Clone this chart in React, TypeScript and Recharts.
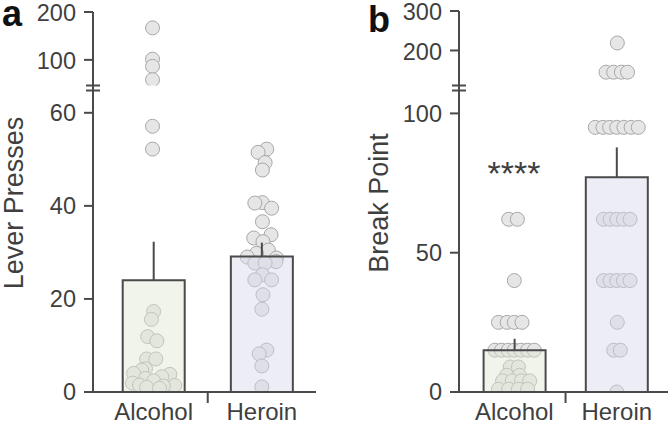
import React from 'react';
import { ComposedChart, Bar, Scatter, XAxis, YAxis, ErrorBar, Cell } from 'recharts';

const categories = ['Alcohol', 'Heroin'];
const categoryX = [1, 2];
const barFills = ['#e0e7d3', '#d6d6ec'];

// Panel a: Lever Presses
const leverMean = [24.0, 29.1];
const leverSem = [8.3, 3.0];
const leverTicksLow = [0, 20, 40, 60];
const leverTicksHigh = [100, 200];
const leverAlcoholHigh = [159, 101, 91, 75];
const leverAlcoholHighSpread = [-0.01, -0.01, -0.01, -0.01];
const leverAlcoholLow = [57.1, 52.2, 17.3, 15.6, 11.9, 11.0, 7.1, 7.1, 5.0, 4.7, 4.0, 3.8, 3.3, 2.9, 2.4, 1.9, 1.5, 1.4, 1.3, 1.0, 0.8];
const leverAlcoholLowSpread = [-0.01, -0.01, 0, -0.02, -0.055, 0.03, -0.065, 0.02, -0.075, -0.11, -0.185, 0.15, 0.075, -0.075, 0, -0.195, -0.13, 0.195, 0.09, -0.065, 0.055];
const leverHeroinLow = [52.2, 51.5, 49.3, 47.7, 40.7, 40.6, 39.5, 36.6, 33.8, 33.1, 32.3, 30.5, 29.8, 29.0, 28.8, 28.0, 27.7, 27.7, 25.2, 24.1, 24.1, 20.9, 17.8, 9.0, 8.2, 5.6, 1.1];
const leverHeroinLowSpread = [0.045, -0.035, 0.03, 0.005, 0.005, -0.065, 0.09, 0.005, 0.085, -0.075, 0.01, 0.06, -0.05, -0.135, 0.135, 0.13, -0.065, 0.03, 0.005, -0.065, 0.09, 0.01, 0, 0.045, -0.025, 0, 0];

// Panel b: Break Point
const breakMean = [15.0, 77.1];
const breakSem = [4.1, 10.7];
const breakTicksLow = [0, 50, 100];
const breakTicksHigh = [200, 300];
const breakAlcoholLow = [62, 62, 40, 25, 25, 25, 25, 15, 15, 15, 15, 15, 15, 15, 9, 9, 6, 6, 4, 4, 4, 4, 1, 1, 1, 1];
const breakAlcoholLowSpread = [-0.055, 0.03, 0, -0.155, -0.07, 0, 0.075, -0.19, -0.125, -0.06, 0, 0.065, 0.13, 0.195, -0.04, 0.04, -0.075, 0.05, -0.115, -0.02, 0.07, 0.15, -0.155, -0.055, 0.04, 0.13];
const breakHeroinHigh = [219, 145, 145, 145, 145];
const breakHeroinHighSpread = [0.005, -0.105, -0.03, 0.045, 0.105];
const breakHeroinLow = [95, 95, 95, 95, 95, 95, 95, 62, 62, 62, 62, 62, 40, 40, 40, 40, 40, 25, 15, 15, 0];
const breakHeroinLowSpread = [-0.21, -0.135, -0.07, 0, 0.07, 0.14, 0.21, -0.13, -0.065, 0, 0.065, 0.13, -0.13, -0.065, 0, 0.065, 0.13, 0.005, -0.03, 0.035, 0];

const AXIS = '#4a4a4a';
const TEXT = '#3f3f3f';
const FONT = '"Liberation Sans", Arial, Helvetica, sans-serif';

type Pt = { x: number; y: number };
const toPoints = (cat: number, values: number[], spread: number[]): Pt[] =>
  values.map((v, i) => ({ x: categoryX[cat] + spread[i], y: v }));

const Dot = (p: any) => (
  <circle cx={p.cx} cy={p.cy} r={7} fill="#e6e6e6" stroke="#a8a8a8" strokeWidth={1} />
);

const XTick = (p: any) => {
  const { x, y, payload } = p;
  const idx = categoryX.indexOf(payload.value);
  if (idx < 0) {
    return <line x1={x} x2={x} y1={y} y2={y + 11} stroke={AXIS} strokeWidth={2} />;
  }
  return (
    <text x={x} y={y + 28} textAnchor="middle" fill={TEXT} fontSize={24} fontFamily={FONT}>
      {categories[idx]}
    </text>
  );
};

const yTickStyle = { fill: TEXT, fontSize: 23.5, fontFamily: FONT };
const axisLineStyle = { stroke: AXIS, strokeWidth: 2 };

type LowerProps = {
  left: number; right: number; xDomain: [number, number]; padLeft: number; yDomain: [number, number];
  yTicks: number[]; means: number[]; sems: number[]; groups: Pt[][];
};

function LowerPoints(props: LowerProps) {
  return (
    <div style={{ position: 'absolute', left: 0, top: 0 }}>
      <ComposedChart width={672} height={424}
        margin={{ top: 90, right: props.right, bottom: 0, left: props.left }}>
        <XAxis type="number" dataKey="x" domain={props.xDomain} ticks={[1, 1.5, 2]} allowDataOverflow
          height={32} tickLine={false} tickSize={0} tickMargin={0} axisLine={axisLineStyle}
          tick={<XTick />} interval={0} />
        <YAxis type="number" domain={props.yDomain} ticks={props.yTicks} allowDataOverflow width={60}
          tickSize={9} tickMargin={8} axisLine={axisLineStyle} tickLine={axisLineStyle}
          tick={yTickStyle} interval={0} />
        {props.groups.map((g, i) => (
          <Scatter key={i} data={g} dataKey="y" shape={Dot} isAnimationActive={false} />
        ))}
      </ComposedChart>
    </div>
  );
}

function LowerBars(props: LowerProps) {
  const barData = categories.map((name, i) => ({ name, mean: props.means[i], err: [0, props.sems[i]] }));
  return (
    <div style={{ position: 'absolute', left: 0, top: 0 }}>
      <ComposedChart width={672} height={424} data={barData}
        margin={{ top: 90, right: props.right, bottom: 32, left: props.left + 60 }}>
        <XAxis type="category" dataKey="name" hide padding={{ left: props.padLeft, right: 0 }} />
        <YAxis type="number" domain={props.yDomain} allowDataOverflow hide />
        <Bar dataKey="mean" barSize={62} isAnimationActive={false} stroke={AXIS}
          strokeWidth={2} fillOpacity={0.45}>
          {barData.map((d, i) => <Cell key={i} fill={barFills[i]} />)}
          <ErrorBar dataKey="err" width={0} stroke={AXIS} strokeWidth={2} direction="y" />
        </Bar>
      </ComposedChart>
    </div>
  );
}

function UpperChart(props: {
  left: number; right: number; top: number; bottom: number; xDomain: [number, number];
  yDomain: [number, number]; yTicks: number[]; log?: boolean; groups: Pt[][];
}) {
  return (
    <div style={{ position: 'absolute', left: 0, top: 0 }}>
      <ComposedChart width={672} height={100}
        margin={{ top: props.top, right: props.right, bottom: props.bottom, left: props.left }}>
        <XAxis type="number" dataKey="x" domain={props.xDomain} allowDataOverflow hide />
        <YAxis type="number" scale={props.log ? 'log' : 'linear'} domain={props.yDomain} ticks={props.yTicks}
          allowDataOverflow width={60} tickSize={9} tickMargin={8} axisLine={axisLineStyle}
          tickLine={axisLineStyle} tick={{ ...yTickStyle, dy: 1 }} interval={0} />
        {props.groups.map((g, i) => (
          <Scatter key={i} data={g} dataKey="y" shape={Dot} isAnimationActive={false} />
        ))}
      </ComposedChart>
    </div>
  );
}

const Break = ({ x }: { x: number }) => (
  <g stroke={AXIS} strokeWidth={2}>
    <line x1={x} x2={x} y1={84} y2={92} />
    <line x1={x - 7} x2={x + 7} y1={85.5} y2={85.5} />
    <line x1={x - 7} x2={x + 7} y1={90.5} y2={90.5} />
  </g>
);

export default function App() {
  const panelA: LowerProps = {
    left: 33, right: 356, xDomain: [0.44, 2.5], padLeft: 6.7, yDomain: [0, 64.9], yTicks: leverTicksLow,
    means: leverMean, sems: leverSem,
    groups: [toPoints(0, leverAlcoholLow, leverAlcoholLowSpread), toPoints(1, leverHeroinLow, leverHeroinLowSpread)],
  };
  const panelB: LowerProps = {
    left: 399, right: 4, xDomain: [0.46, 2.5], padLeft: 4.6, yDomain: [0, 108.4], yTicks: breakTicksLow,
    means: breakMean, sems: breakSem,
    groups: [toPoints(0, breakAlcoholLow, breakAlcoholLowSpread), toPoints(1, breakHeroinLow, breakHeroinLowSpread)],
  };
  return (
    <div style={{ position: 'absolute', left: 0, top: 0, width: 672, height: 424, background: '#fff', fontFamily: FONT }}>
      <UpperChart left={33} right={356} top={12} bottom={14.5} xDomain={panelA.xDomain} yDomain={[69, 200]}
        yTicks={leverTicksHigh} log groups={[toPoints(0, leverAlcoholHigh, leverAlcoholHighSpread)]} />
      <UpperChart left={399} right={4} top={11} bottom={14} xDomain={panelB.xDomain} yDomain={[110, 300]}
        yTicks={breakTicksHigh} groups={[toPoints(1, breakHeroinHigh, breakHeroinHighSpread)]} />
      <LowerPoints {...panelA} />
      <LowerPoints {...panelB} />
      <LowerBars {...panelA} />
      <LowerBars {...panelB} />
      <svg width={672} height={424} style={{ position: 'absolute', left: 0, top: 0, pointerEvents: 'none' }}>
        <Break x={93} />
        <Break x={459} />
        <text x={2} y={26} fontSize={36} fontWeight="bold" fill="#111" fontFamily={FONT}>a</text>
        <text x={368} y={32} fontSize={36} fontWeight="bold" fill="#111" fontFamily={FONT}>b</text>
        <text transform="translate(23,203) rotate(-90)" textAnchor="middle" fontSize={27} fill={TEXT} fontFamily={FONT}>Lever Presses</text>
        <text transform="translate(388,203) rotate(-90)" textAnchor="middle" fontSize={27} fill={TEXT} fontFamily={FONT}>Break Point</text>
        <text x={514} y={185} textAnchor="middle" fontSize={34} fill={TEXT} fontFamily={FONT}>****</text>
      </svg>
    </div>
  );
}
